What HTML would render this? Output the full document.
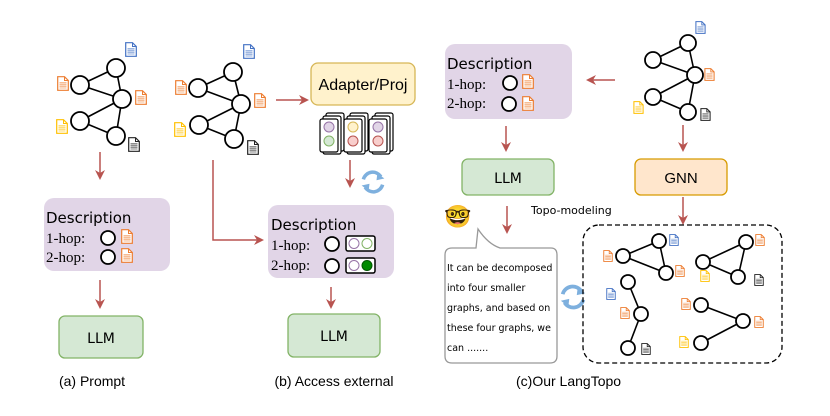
<!DOCTYPE html>
<html><head><meta charset="utf-8"><style>
html,body{margin:0;padding:0;background:#fff;}
svg{display:block;}
.c{fill:#fff;stroke:#000;stroke-width:1.8;}
.e{stroke:#000;stroke-width:1.6;fill:none;}
.ar{stroke:#b85450;stroke-width:1.5;fill:none;marker-end:url(#ah);}
.hand{font-family:"Comic Sans MS","DejaVu Sans",sans-serif;}
.ser{font-family:"Liberation Serif",serif;}
.sans{font-family:"Liberation Sans",sans-serif;}
</style></head><body>
<svg width="830" height="416" viewBox="0 0 830 416" xmlns="http://www.w3.org/2000/svg">
<defs>
<marker id="ah" markerWidth="10" markerHeight="10" refX="8" refY="5" orient="auto" markerUnits="userSpaceOnUse">
<path d="M0,0 L10,5 L0,10 L3,5 Z" fill="#b85450"/></marker>
<symbol id="doc" viewBox="0 0 12 15" overflow="visible">
<path d="M0.7,0.7 H7.5 L11.3,4.5 V14.3 H0.7 Z" fill="#fff" stroke="currentColor" stroke-width="1.2"/>
<path d="M7.5,0.7 V4.5 H11.3" fill="none" stroke="currentColor" stroke-width="1"/>
<rect x="2.5" y="6" width="7" height="6.5" fill="currentColor" opacity="0.55"/>
<path d="M2.5,7.2H9.5M2.5,9.2H9.5M2.5,11.2H9.5" stroke="#fff" stroke-width="0.5"/>
</symbol>
<symbol id="ref" viewBox="-16 -16 32 32" overflow="visible">
<path d="M-11,-3 A11,11 0 0 1 9,-6" fill="none" stroke="#7eb0de" stroke-width="4"/>
<path d="M11,3 A11,11 0 0 1 -9,6" fill="none" stroke="#7eb0de" stroke-width="4"/>
<path d="M5,-10 L13,-4 L4,-2 Z" fill="#7eb0de"/>
<path d="M-5,10 L-13,4 L-4,2 Z" fill="#7eb0de"/>
</symbol>
</defs>

<!-- (a) graph -->
<g>
<line class="e" x1="80" y1="85" x2="116" y2="68"/><line class="e" x1="80" y1="85" x2="122" y2="99"/>
<line class="e" x1="116" y1="68" x2="122" y2="99"/><line class="e" x1="80" y1="121" x2="122" y2="99"/>
<line class="e" x1="80" y1="121" x2="116" y2="136"/><line class="e" x1="116" y1="136" x2="122" y2="99"/>
<circle class="c" cx="80" cy="85" r="9"/><circle class="c" cx="116" cy="68" r="9"/><circle class="c" cx="122" cy="99" r="9"/>
<circle class="c" cx="80" cy="121" r="9"/><circle class="c" cx="116" cy="136" r="9"/>
<use href="#doc" x="125" y="42" width="12" height="15" color="#4472c4"/>
<use href="#doc" x="57" y="76" width="12" height="15" color="#ed7d31"/>
<use href="#doc" x="135" y="90" width="12" height="15" color="#ed7d31"/>
<use href="#doc" x="56" y="119" width="12" height="15" color="#ffc000"/>
<use href="#doc" x="128" y="137" width="12" height="15" color="#222"/>
</g>
<line class="ar" x1="100" y1="152" x2="100" y2="178"/>
<rect x="44" y="198" width="126" height="73" rx="10" fill="#e1d5e7"/>
<text x="46" y="223" class="hand" font-size="15">Description</text>
<text x="46" y="243" class="ser" font-size="15">1-hop:</text>
<text x="46" y="262" class="ser" font-size="15">2-hop:</text>
<circle class="c" cx="108" cy="238" r="7"/><circle class="c" cx="108" cy="257" r="7"/>
<use href="#doc" x="121" y="229" width="12" height="15" color="#ed7d31"/>
<use href="#doc" x="121" y="248" width="12" height="15" color="#ed7d31"/>
<line class="ar" x1="100" y1="280" x2="100" y2="307"/>
<rect x="59" y="316" width="84" height="42" rx="6" fill="#d5e8d4" stroke="#82b366" stroke-width="1.3"/>
<text x="101" y="343" class="hand" font-size="14" text-anchor="middle">LLM</text>
<text x="92" y="386" class="sans" font-size="14" text-anchor="middle">(a) Prompt</text>

<!-- (b) graph -->
<g>
<line class="e" x1="198" y1="88" x2="233" y2="72"/><line class="e" x1="198" y1="88" x2="241" y2="104"/>
<line class="e" x1="233" y1="72" x2="241" y2="104"/><line class="e" x1="199" y1="125" x2="241" y2="104"/>
<line class="e" x1="199" y1="125" x2="234" y2="139"/><line class="e" x1="234" y1="139" x2="241" y2="104"/>
<circle class="c" cx="198" cy="88" r="9"/><circle class="c" cx="233" cy="72" r="9"/><circle class="c" cx="241" cy="104" r="9"/>
<circle class="c" cx="199" cy="125" r="9"/><circle class="c" cx="234" cy="139" r="9"/>
<use href="#doc" x="243" y="44" width="12" height="15" color="#4472c4"/>
<use href="#doc" x="175" y="80" width="12" height="15" color="#ed7d31"/>
<use href="#doc" x="254" y="93" width="12" height="15" color="#ed7d31"/>
<use href="#doc" x="174" y="122" width="12" height="15" color="#ffc000"/>
<use href="#doc" x="247" y="140" width="12" height="15" color="#222"/>
</g>
<line class="ar" x1="276" y1="100" x2="307" y2="100"/>
<rect x="311" y="63" width="104" height="42" rx="7" fill="#fff2cc" stroke="#d6b656" stroke-width="1.3"/>
<text x="363" y="90" class="sans" font-size="16" text-anchor="middle">Adapter/Proj</text>
<g stroke="#000" stroke-width="1.2">
<rect x="326" y="113" width="18" height="38" rx="2" fill="#fff"/><rect x="323" y="116" width="18" height="38" rx="2" fill="#fff"/><rect x="320" y="119" width="18" height="33" rx="2" fill="#fff"/>
<rect x="350" y="113" width="18" height="38" rx="2" fill="#fff"/><rect x="347" y="116" width="18" height="38" rx="2" fill="#fff"/><rect x="344" y="119" width="18" height="33" rx="2" fill="#fff"/>
<rect x="375" y="113" width="18" height="38" rx="2" fill="#fff"/><rect x="372" y="116" width="18" height="38" rx="2" fill="#fff"/><rect x="369" y="119" width="18" height="33" rx="2" fill="#fff"/>
</g>
<circle cx="329" cy="127" r="5" fill="#e1d5e7" stroke="#9673a6"/><circle cx="329" cy="141" r="5" fill="#d5e8d4" stroke="#82b366"/>
<circle cx="353" cy="127" r="5" fill="#fff2cc" stroke="#d6b656"/><circle cx="353" cy="141" r="5" fill="#f8cecc" stroke="#b85450"/>
<circle cx="378" cy="127" r="5" fill="#e1d5e7" stroke="#9673a6"/><circle cx="378" cy="141" r="5" fill="#f8cecc" stroke="#b85450"/>
<line class="ar" x1="350" y1="160" x2="350" y2="186"/>
<use href="#ref" x="359" y="168" width="28" height="28"/>
<polyline class="ar" points="213,160 213,240 262,240"/>
<rect x="268" y="205" width="126" height="73" rx="10" fill="#e1d5e7"/>
<text x="271" y="230" class="hand" font-size="15">Description</text>
<text x="271" y="250" class="ser" font-size="15">1-hop:</text>
<text x="271" y="270" class="ser" font-size="15">2-hop:</text>
<circle class="c" cx="332" cy="244" r="7"/><circle class="c" cx="332" cy="266" r="7"/>
<rect x="346" y="236" width="29" height="15" rx="2" fill="#fff" stroke="#000" stroke-width="1.5"/>
<circle cx="354" cy="243.5" r="5" fill="#fff" stroke="#9673a6"/><circle cx="367" cy="243.5" r="5" fill="#fff" stroke="#82b366"/>
<rect x="346" y="258" width="29" height="15" rx="2" fill="#fff" stroke="#000" stroke-width="1.5"/>
<circle cx="354" cy="265.5" r="5" fill="#fff" stroke="#9673a6"/><circle cx="367" cy="265.5" r="5" fill="#008a00" stroke="#005700"/>
<line class="ar" x1="331" y1="287" x2="331" y2="307"/>
<rect x="288" y="314" width="92" height="43" rx="6" fill="#d5e8d4" stroke="#82b366" stroke-width="1.3"/>
<text x="334" y="341" class="hand" font-size="14" text-anchor="middle">LLM</text>
<text x="334" y="386" class="sans" font-size="14" text-anchor="middle">(b) Access external</text>

<!-- (c) -->
<rect x="445" y="44" width="127" height="75" rx="10" fill="#e1d5e7"/>
<text x="447" y="69" class="hand" font-size="15">Description</text>
<text x="447" y="89" class="ser" font-size="15">1-hop:</text>
<text x="447" y="108" class="ser" font-size="15">2-hop:</text>
<circle class="c" cx="510" cy="83" r="7"/><circle class="c" cx="509" cy="104" r="7"/>
<use href="#doc" x="522" y="74" width="12" height="15" color="#ed7d31"/>
<use href="#doc" x="522" y="96" width="12" height="15" color="#ed7d31"/>
<line class="ar" x1="615" y1="80" x2="588" y2="80"/>
<g>
<line class="e" x1="653" y1="60" x2="688" y2="43"/><line class="e" x1="653" y1="60" x2="695" y2="75"/>
<line class="e" x1="688" y1="43" x2="695" y2="75"/><line class="e" x1="653" y1="97" x2="695" y2="75"/>
<line class="e" x1="653" y1="97" x2="688" y2="112"/><line class="e" x1="688" y1="112" x2="695" y2="75"/>
<circle class="c" cx="653" cy="60" r="8"/><circle class="c" cx="688" cy="43" r="8"/><circle class="c" cx="695" cy="75" r="8"/>
<circle class="c" cx="653" cy="97" r="8"/><circle class="c" cx="688" cy="112" r="8"/>
<use href="#doc" x="695" y="21" width="11" height="13" color="#4472c4"/>
<use href="#doc" x="704" y="68" width="11" height="13" color="#ed7d31"/>
<use href="#doc" x="633" y="101" width="11" height="13" color="#ffc000"/>
<use href="#doc" x="700" y="108" width="11" height="13" color="#222"/>
</g>
<line class="ar" x1="506" y1="126" x2="506" y2="150"/>
<rect x="462" y="159" width="92" height="36" rx="6" fill="#d5e8d4" stroke="#82b366" stroke-width="1.3"/>
<text x="508" y="183" class="hand" font-size="14" text-anchor="middle">LLM</text>
<line class="ar" x1="683" y1="125" x2="683" y2="150"/>
<rect x="635" y="159" width="92" height="36" rx="6" fill="#ffe6cc" stroke="#d79b00" stroke-width="1.3"/>
<text x="681" y="183" class="sans" font-size="15" text-anchor="middle">GNN</text>
<line class="ar" x1="683" y1="197" x2="683" y2="223"/>
<text x="458" y="224" font-size="22" text-anchor="middle" font-family="'Noto Color Emoji',sans-serif">🤓</text>
<line class="ar" x1="507" y1="206" x2="507" y2="232"/>
<text x="531" y="214" class="hand" font-size="11">Topo-modeling</text>
<path d="M452,248 H476 L478,229 Q488,244 500,248 H551 Q557,248 557,255 V356 Q557,363 550,363 H452 Q445,363 445,356 V255 Q445,248 452,248 Z" fill="#fff" stroke="#999" stroke-width="1.3"/>
<g class="hand" font-size="9.5">
<text x="447" y="271">It can be decomposed</text>
<text x="447" y="291">into four smaller</text>
<text x="447" y="311">graphs, and based on</text>
<text x="447" y="331">these four graphs, we</text>
<text x="447" y="351">can .......</text>
</g>
<use href="#ref" x="558" y="282" width="30" height="30"/>
<rect x="583" y="225" width="199" height="138" rx="16" fill="none" stroke="#000" stroke-width="1.3" stroke-dasharray="5,3"/>
<g>
<line class="e" x1="623" y1="256" x2="659" y2="241"/><line class="e" x1="623" y1="256" x2="666" y2="273"/><line class="e" x1="659" y1="241" x2="666" y2="273"/>
<circle class="c" cx="623" cy="256" r="7"/><circle class="c" cx="659" cy="241" r="7"/><circle class="c" cx="666" cy="273" r="7"/>
<line class="e" x1="703" y1="262" x2="746" y2="242"/><line class="e" x1="703" y1="262" x2="738" y2="277"/><line class="e" x1="746" y1="242" x2="738" y2="277"/>
<circle class="c" cx="703" cy="262" r="7"/><circle class="c" cx="746" cy="242" r="7"/><circle class="c" cx="738" cy="277" r="7"/>
<line class="e" x1="628" y1="282" x2="641" y2="314"/><line class="e" x1="641" y1="314" x2="628" y2="348"/>
<circle class="c" cx="628" cy="282" r="7"/><circle class="c" cx="641" cy="314" r="7"/><circle class="c" cx="628" cy="348" r="7"/>
<line class="e" x1="701" y1="305" x2="743" y2="321"/><line class="e" x1="743" y1="321" x2="701" y2="343"/>
<circle class="c" cx="701" cy="305" r="7"/><circle class="c" cx="743" cy="321" r="7"/><circle class="c" cx="701" cy="343" r="7"/>
<use href="#doc" x="669" y="234" width="10" height="12" color="#4472c4"/>
<use href="#doc" x="603" y="250" width="10" height="12" color="#ed7d31"/>
<use href="#doc" x="675" y="265" width="10" height="12" color="#ed7d31"/>
<use href="#doc" x="755" y="234" width="10" height="12" color="#ed7d31"/>
<use href="#doc" x="700" y="270" width="10" height="12" color="#ffc000"/>
<use href="#doc" x="754" y="274" width="10" height="12" color="#222"/>
<use href="#doc" x="606" y="288" width="10" height="12" color="#4472c4"/>
<use href="#doc" x="620" y="307" width="10" height="12" color="#ed7d31"/>
<use href="#doc" x="641" y="343" width="10" height="12" color="#222"/>
<use href="#doc" x="681" y="298" width="10" height="12" color="#ed7d31"/>
<use href="#doc" x="754" y="316" width="10" height="12" color="#ed7d31"/>
<use href="#doc" x="679" y="336" width="10" height="12" color="#ffc000"/>
</g>
<text x="516" y="386" class="sans" font-size="14">(c)Our LangTopo</text>
</svg>
</body></html>
